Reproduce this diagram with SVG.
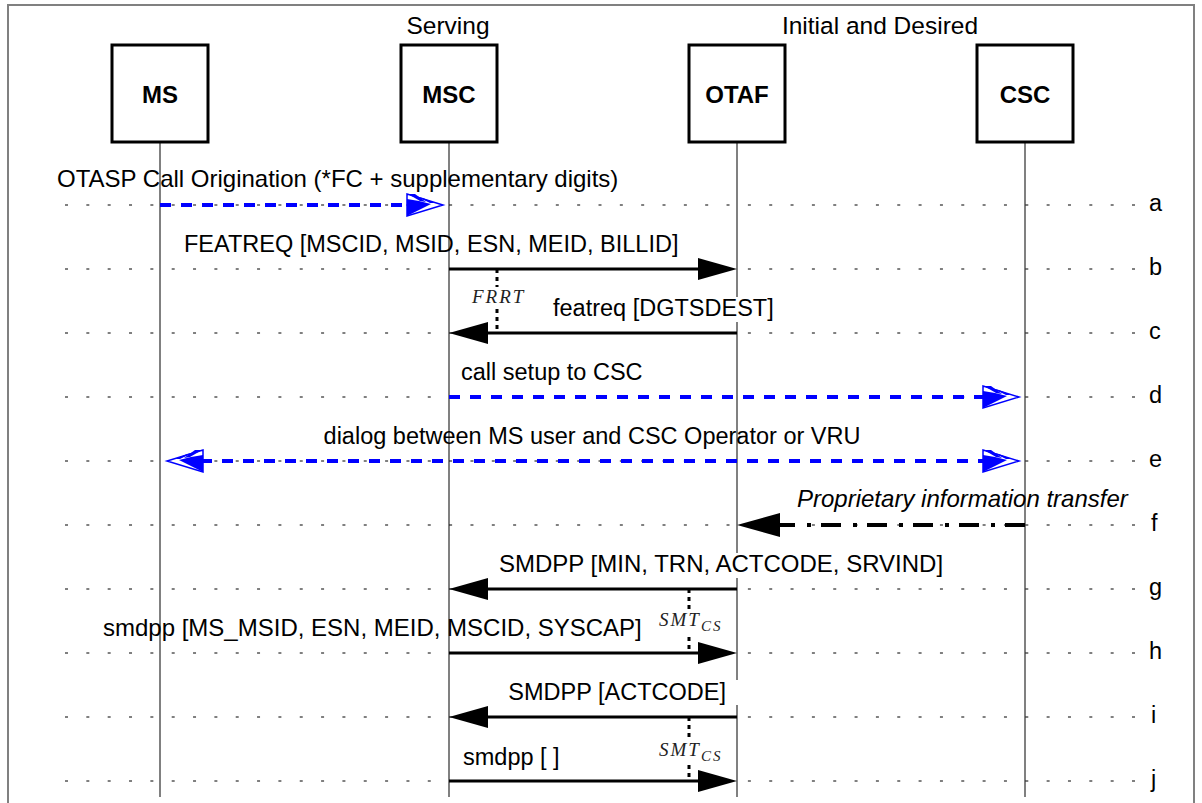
<svg xmlns="http://www.w3.org/2000/svg" width="1202" height="803" viewBox="0 0 1202 803">
<style>
.frame{stroke:#808080;stroke-width:2;fill:none}
.life{stroke:#808080;stroke-width:2}
.box{fill:#fff;stroke:#000;stroke-width:3}
.bname{font-family:"Liberation Sans",Arial,sans-serif;font-weight:bold;font-size:24px;text-anchor:middle;fill:#000}
.hdr{font-family:"Liberation Sans",Arial,sans-serif;font-size:24.5px;text-anchor:middle;fill:#000}
.row{stroke:#000;stroke-width:1;stroke-dasharray:3 18.34}
.lbl{font-family:"Liberation Sans",Arial,sans-serif;font-size:23.5px;fill:#000}
.it{font-style:italic}
.rowl{font-family:"Liberation Sans",Arial,sans-serif;font-size:23.5px;fill:#000}
.msg{stroke:#000;stroke-width:3}
.blue{stroke:#0000ff;stroke-width:4;stroke-dasharray:11 10}
.dd{stroke:#000;stroke-width:4;stroke-dasharray:20 10 4 12}
.timer{stroke:#000;stroke-width:3;stroke-dasharray:4 4}
.tl{font-family:"Liberation Serif","Times New Roman",serif;font-style:italic;font-size:19px;fill:#222;letter-spacing:2px}
.sub{font-size:15px}
.bg{fill:#fff}
</style>
<defs>
<g id="bh">
<polygon points="-36,-11 0,0 -36,11" fill="#fff" stroke="#0000ff" stroke-width="1.5"/>
<polygon points="-36,-6 -24,-4 -12,-1 -36,11" fill="#0000ff"/>
<polygon points="-35,-11 -28,-11 -17,-3 -23,-4" fill="#0000ff"/>
<polygon points="-25,-8 -20,-7 -8,-2 -13,-2" fill="#0000ff"/>
</g>
</defs>

<g id="frame">
<polyline class="frame" points="8,803 8,5 1194,5 1194,803"/>
</g>

<g id="headers">
<text class="hdr" x="448" y="34">Serving</text>
<text class="hdr" x="880" y="34">Initial and Desired</text>
</g>

<g id="lifelines">
<line class="life" x1="160" y1="142" x2="160" y2="797"/>
<line class="life" x1="449" y1="142" x2="449" y2="797"/>
<line class="life" x1="737" y1="142" x2="737" y2="797"/>
<line class="life" x1="1025" y1="142" x2="1025" y2="797"/>
</g>

<g id="node-MS"><rect class="box" x="112" y="45" width="96" height="97"/><text class="bname" x="160" y="103">MS</text></g>
<g id="node-MSC"><rect class="box" x="401" y="45" width="96" height="97"/><text class="bname" x="449" y="103">MSC</text></g>
<g id="node-OTAF"><rect class="box" x="689" y="45" width="96" height="97"/><text class="bname" x="737" y="103">OTAF</text></g>
<g id="node-CSC"><rect class="box" x="977" y="45" width="96" height="97"/><text class="bname" x="1025" y="103">CSC</text></g>

<g id="rows">
<line class="row" x1="65" y1="205" x2="1137" y2="205"/>
<line class="row" x1="65" y1="269" x2="1137" y2="269"/>
<line class="row" x1="65" y1="333" x2="1137" y2="333"/>
<line class="row" x1="65" y1="397" x2="1137" y2="397"/>
<line class="row" x1="65" y1="461" x2="1137" y2="461"/>
<line class="row" x1="65" y1="525" x2="1137" y2="525"/>
<line class="row" x1="65" y1="589" x2="1137" y2="589"/>
<line class="row" x1="65" y1="653" x2="1137" y2="653"/>
<line class="row" x1="65" y1="717" x2="1137" y2="717"/>
<line class="row" x1="65" y1="781" x2="1137" y2="781"/>
<text class="rowl" x="1149" y="211">a</text>
<text class="rowl" x="1149" y="275">b</text>
<text class="rowl" x="1149" y="339">c</text>
<text class="rowl" x="1149" y="403">d</text>
<text class="rowl" x="1149" y="467">e</text>
<text class="rowl" x="1151" y="531">f</text>
<text class="rowl" x="1149" y="595">g</text>
<text class="rowl" x="1149" y="659">h</text>
<text class="rowl" x="1151" y="723">i</text>
<text class="rowl" x="1151" y="787">j</text>
</g>

<g id="connectors">
<!-- a -->
<line class="blue" x1="160" y1="205" x2="409" y2="205"/>
<use href="#bh" transform="translate(443,205)"/>
<!-- b -->
<line class="msg" x1="449" y1="269" x2="700" y2="269"/>
<polygon points="698,258 737,269 698,280"/>
<!-- c -->
<line class="msg" x1="737" y1="333" x2="486" y2="333"/>
<polygon points="449,333 488,322 488,344"/>
<!-- d -->
<line class="blue" x1="449" y1="397" x2="985" y2="397"/>
<use href="#bh" transform="translate(1019,397)"/>
<!-- e -->
<line class="blue" x1="201" y1="461" x2="985" y2="461"/>
<use href="#bh" transform="translate(1019,461)"/>
<use href="#bh" transform="translate(167,461) scale(-1,1)"/>
<!-- f -->
<line class="dd" x1="1025" y1="525" x2="778" y2="525"/>
<polygon points="737,525 780,513 780,537"/>
<!-- g -->
<line class="msg" x1="737" y1="589" x2="486" y2="589"/>
<polygon points="449,589 488,578 488,600"/>
<!-- h -->
<line class="msg" x1="449" y1="653" x2="700" y2="653"/>
<polygon points="698,642 737,653 698,664"/>
<!-- i -->
<line class="msg" x1="737" y1="717" x2="486" y2="717"/>
<polygon points="449,717 488,706 488,728"/>
<!-- j -->
<line class="msg" x1="449" y1="781" x2="700" y2="781"/>
<polygon points="698,770 737,781 698,792"/>
<!-- timers -->
<line class="timer" x1="497" y1="269" x2="497" y2="333"/>
<line class="timer" x1="689" y1="589" x2="689" y2="653"/>
<line class="timer" x1="689" y1="717" x2="689" y2="781"/>
</g>

<g id="labels">
<text class="lbl" x="57" y="187" style="font-size:24px">OTASP Call Origination (*FC + supplementary digits)</text>
<text class="lbl" x="184" y="252">FEATREQ [MSCID, MSID, ESN, MEID, BILLID]</text>
<rect class="bg" x="550" y="297" width="230" height="25"/>
<text class="lbl" x="553" y="316">featreq [DGTSDEST]</text>
<text class="lbl" x="461" y="380">call setup to CSC</text>
<text class="lbl" x="592" y="444" text-anchor="middle">dialog between MS user and CSC Operator or VRU</text>
<text class="lbl it" x="797" y="507" style="font-size:24px">Proprietary information transfer</text>
<rect class="bg" x="496" y="553" width="450" height="25"/>
<text class="lbl" x="499" y="572" style="font-size:24px">SMDPP [MIN, TRN, ACTCODE, SRVIND]</text>
<text class="lbl" x="103" y="636" style="font-size:24px">smdpp [MS_MSID, ESN, MEID, MSCID, SYSCAP]</text>
<rect class="bg" x="504" y="680" width="237" height="25"/>
<text class="lbl" x="726" y="700" text-anchor="end">SMDPP [ACTCODE]</text>
<text class="lbl" x="463" y="765">smdpp [ ]</text>
<rect class="bg" x="470" y="287" width="58" height="21"/>
<text class="tl" x="472" y="303">FRRT</text>
<rect class="bg" x="656" y="609" width="68" height="26"/>
<text class="tl" x="659" y="626">SMT<tspan class="sub" dy="5">CS</tspan></text>
<rect class="bg" x="656" y="738" width="68" height="26"/>
<text class="tl" x="659" y="756">SMT<tspan class="sub" dy="5">CS</tspan></text>
</g>
</svg>
